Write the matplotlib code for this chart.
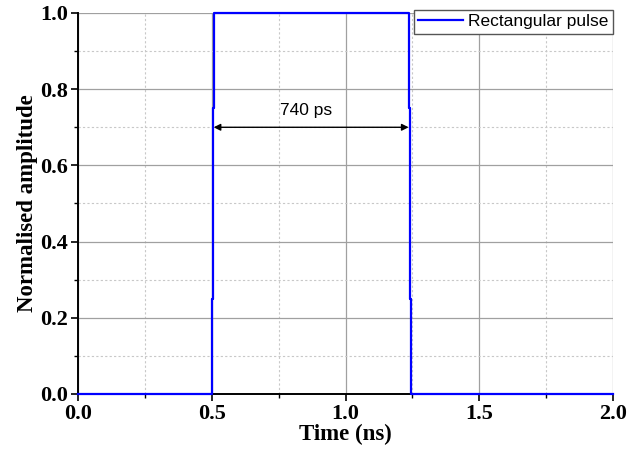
import matplotlib
matplotlib.use("Agg")
import matplotlib.pyplot as plt
from matplotlib.ticker import MultipleLocator

# Rectangular pulse samples (time in ns, normalised amplitude)
time_ns = [0.0, 0.500, 0.500, 0.504, 0.504, 0.507, 0.507,
           1.236, 1.236, 1.240, 1.240, 1.244, 1.244, 2.0]
amplitude = [0.0, 0.0, 0.25, 0.25, 0.75, 0.75, 1.0,
             1.0, 0.75, 0.75, 0.25, 0.25, 0.0, 0.0]

width_start = 0.507
width_end = 1.236
width_level = 0.70
width_label = "740 ps"

fig = plt.figure(figsize=(6.29, 4.54), dpi=100)
ax = fig.add_axes([0.124, 0.1322, 0.8506, 0.8392])

serif = ["Liberation Serif", "DejaVu Serif"]
sans = ["Liberation Sans", "DejaVu Sans"]

ax.plot(time_ns, amplitude, color="#0000ff", lw=1.6, label="Rectangular pulse",
        zorder=3, clip_on=False)

ax.set_xlim(0, 2.0)
ax.set_ylim(0, 1.0)
ax.xaxis.set_major_locator(MultipleLocator(0.5))
ax.xaxis.set_minor_locator(MultipleLocator(0.25))
ax.yaxis.set_major_locator(MultipleLocator(0.2))
ax.yaxis.set_minor_locator(MultipleLocator(0.1))

ax.grid(which="major", color="#a0a0a0", lw=0.9, ls="-")
ax.grid(which="minor", color="#c8c8c8", lw=0.8, ls=(0, (2, 2)))
ax.set_axisbelow(True)

for side in ("top", "right"):
    ax.spines[side].set_visible(False)
for side in ("left", "bottom"):
    ax.spines[side].set_linewidth(1.4)

ax.tick_params(which="major", direction="out", length=5, width=1.2, pad=2)
ax.tick_params(which="minor", direction="out", length=3, width=1.0)

ax.set_xticklabels([f"{v:.1f}" for v in ax.get_xticks()])
ax.set_yticklabels([f"{v:.1f}" for v in ax.get_yticks()])
for lab in ax.get_xticklabels() + ax.get_yticklabels():
    lab.set_fontfamily(serif)
    lab.set_fontweight("bold")
    lab.set_fontsize(16)

ax.set_xlabel("Time (ns)", fontfamily=serif, fontweight="bold", fontsize=16.5, labelpad=0)
ax.set_ylabel("Normalised amplitude", fontfamily=serif, fontweight="bold", fontsize=16.5,
              labelpad=2)

ax.annotate("", xy=(width_start, width_level), xytext=(width_end, width_level),
            arrowprops=dict(arrowstyle="<|-|>", color="black", lw=1.0,
                            mutation_scale=10, shrinkA=0, shrinkB=0))
ax.text((width_start + width_end) / 2 - 0.02, width_level + 0.045, width_label,
        ha="center", va="center", fontfamily=sans, fontsize=12.5)

leg = ax.legend(loc="upper right", bbox_to_anchor=(1.0, 1.008), prop={"family": sans, "size": 12.5},
                frameon=True, fancybox=False, framealpha=1, edgecolor="#555555",
                borderpad=0.25, handlelength=2.6, handletextpad=0.3, borderaxespad=0)
leg.get_frame().set_linewidth(1.0)

fig.savefig("out.png", dpi=100)
